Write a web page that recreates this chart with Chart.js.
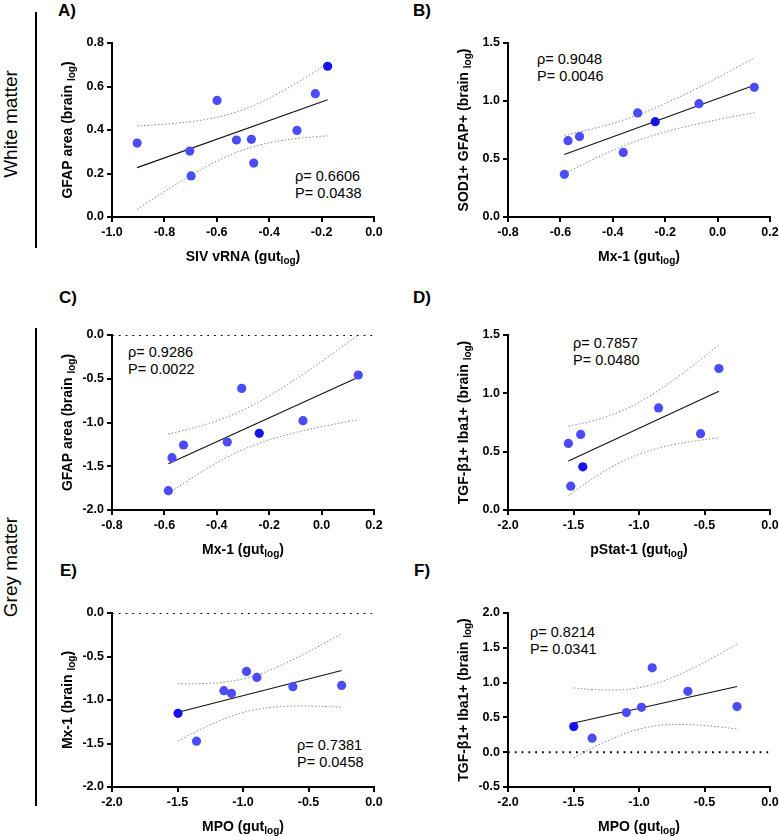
<!DOCTYPE html>
<html>
<head>
<meta charset="utf-8">
<script src="https://cdn.jsdelivr.net/npm/chart.js@4.4.1/dist/chart.umd.min.js"></script>
<style>
  body { margin: 0; width: 779px; height: 836px; overflow: hidden; background: #fff; position: relative;
         font-family: "Liberation Sans", Arial, sans-serif; color: #000; }
  canvas { position: absolute; }
  .lbl { position: absolute; font-weight: bold; font-size: 17px; line-height: 17px; }
  .stat { position: absolute; font-size: 14.5px; line-height: 17px; white-space: nowrap; }
  .side { position: absolute; font-size: 19px; white-space: nowrap; transform: translate(-50%, -50%) rotate(-90deg); }
  .vline { position: absolute; left: 35px; width: 2px; background: #000; }
</style>
</head>
<body>

<div class="vline" style="top:12px; height:236px"></div>
<div class="vline" style="top:328px; height:478px"></div>
<div class="side" style="left:11px; top:124px">White matter</div>
<div class="side" style="left:11px; top:567px">Grey matter</div>

<div class="lbl" style="left:58px; top:2px">A)</div>
<div class="lbl" style="left:413px; top:2px">B)</div>
<div class="lbl" style="left:59px; top:289px">C)</div>
<div class="lbl" style="left:413px; top:289px">D)</div>
<div class="lbl" style="left:60px; top:562px">E)</div>
<div class="lbl" style="left:414px; top:562px">F)</div>

<div class="stat" style="left:295px; top:168px">ρ= 0.6606<br>P= 0.0438</div>
<div class="stat" style="left:537px; top:51px">ρ= 0.9048<br>P= 0.0046</div>
<div class="stat" style="left:128px; top:344px">ρ= 0.9286<br>P= 0.0022</div>
<div class="stat" style="left:573px; top:335px">ρ= 0.7857<br>P= 0.0480</div>
<div class="stat" style="left:297px; top:737px">ρ= 0.7381<br>P= 0.0458</div>
<div class="stat" style="left:530px; top:624px">ρ= 0.8214<br>P= 0.0341</div>

<canvas id="cA" width="340" height="247" style="left:50px; top:25px"></canvas>
<canvas id="cB" width="342" height="247" style="left:440px; top:25px"></canvas>
<canvas id="cC" width="340" height="248" style="left:50px; top:317px"></canvas>
<canvas id="cD" width="342" height="248" style="left:440px; top:317px"></canvas>
<canvas id="cE" width="340" height="241" style="left:50px; top:595px"></canvas>
<canvas id="cF" width="342" height="241" style="left:440px; top:595px"></canvas>

<script>
// A) SIV vRNA (gut) vs GFAP area, white matter
var sivGut    = [-0.904, -0.703, -0.698, -0.599, -0.525, -0.468, -0.459, -0.294, -0.224, -0.177];
var gfapWhite = [0.340, 0.303, 0.189, 0.536, 0.354, 0.357, 0.248, 0.398, 0.567, 0.693];
// B) and C) share Mx-1 (gut)
var mx1Gut    = [-0.585, -0.571, -0.527, -0.360, -0.305, -0.238, -0.071, 0.140];
var sod1White = [0.368, 0.658, 0.693, 0.557, 0.897, 0.822, 0.977, 1.118];
var gfapGrey  = [-1.779, -1.402, -1.257, -1.223, -0.610, -1.124, -0.979, -0.457];
// D) pStat-1 (gut) vs TGF-b1+ Iba1+
var pstatGut  = [-1.539, -1.521, -1.445, -1.429, -0.851, -0.530, -0.390];
var tgfGreyD  = [0.571, 0.204, 0.648, 0.370, 0.875, 0.654, 1.213];
// E) MPO (gut) vs Mx-1 (brain)
var mpoGutE   = [-1.496, -1.355, -1.146, -1.088, -0.973, -0.894, -0.619, -0.247];
var mx1Brain  = [-1.153, -1.473, -0.893, -0.924, -0.672, -0.740, -0.847, -0.832];
// F) MPO (gut) vs TGF-b1+ Iba1+
var mpoGutF   = [-1.498, -1.358, -1.096, -0.981, -0.899, -0.627, -0.252];
var tgfGreyF  = [0.368, 0.201, 0.569, 0.645, 1.213, 0.874, 0.655];

// tick values
var xTicksA  = [-1.0, -0.8, -0.6, -0.4, -0.2, 0.0];
var xTicksBC = [-0.8, -0.6, -0.4, -0.2, 0.0, 0.2];
var xTicksDF = [-2.0, -1.5, -1.0, -0.5, 0.0];
var yTicksA  = [0.0, 0.2, 0.4, 0.6, 0.8];
var yTicksBD = [0.0, 0.5, 1.0, 1.5];
var yTicksCE = [-2.0, -1.5, -1.0, -0.5, 0.0];
var yTicksF  = [-0.5, 0.0, 0.5, 1.0, 1.5, 2.0];

var FONT = '"Liberation Sans", Arial, sans-serif';
var BLUE = '#4b4bf7';
var DARK = '#1414ea';
var tCrit = { 5: 2.571, 6: 2.447, 8: 2.306 };

function fmt(v) {
    var s = Number(v).toFixed(1);
    return s === '-0.0' ? '0.0' : s;
}

// linear fit + 95% confidence band of the mean
function fit(xs, ys) {
    var n = xs.length, mx = 0, my = 0;
    for (var i = 0; i < n; i++) { mx += xs[i]; my += ys[i]; }
    mx /= n; my /= n;
    var sxx = 0, sxy = 0;
    for (var i = 0; i < n; i++) { sxx += (xs[i] - mx) * (xs[i] - mx); sxy += (xs[i] - mx) * (ys[i] - my); }
    var b = sxy / sxx, a = my - b * mx, sse = 0;
    for (var i = 0; i < n; i++) { var r = ys[i] - (a + b * xs[i]); sse += r * r; }
    var s = Math.sqrt(sse / (n - 2)), t = tCrit[n - 2];
    var x0 = Math.min.apply(null, xs), x1 = Math.max.apply(null, xs);
    var line = [{ x: x0, y: a + b * x0 }, { x: x1, y: a + b * x1 }];
    var up = [], lo = [];
    for (var k = 0; k <= 40; k++) {
        var x = x0 + (x1 - x0) * k / 40;
        var h = t * s * Math.sqrt(1 / n + (x - mx) * (x - mx) / sxx);
        up.push({ x: x, y: a + b * x + h });
        lo.push({ x: x, y: a + b * x - h });
    }
    return { line: line, up: up, lo: lo };
}

function drawTitle(ctx, parts, cx, cy) {
    var main = 'bold 14px ' + FONT, sub = 'bold 10px ' + FONT, w = 0;
    parts.forEach(function (p) { ctx.font = p[1] ? sub : main; w += ctx.measureText(p[0]).width; });
    var x = cx - w / 2;
    ctx.textBaseline = 'middle';
    ctx.textAlign = 'left';
    ctx.fillStyle = '#000';
    parts.forEach(function (p) {
        ctx.font = p[1] ? sub : main;
        ctx.fillText(p[0], x, p[1] ? cy + 4 : cy);
        x += ctx.measureText(p[0]).width;
    });
}

function titlesPlugin(xTitle, yTitle) {
    return {
        id: 'titles',
        afterDraw: function (chart) {
            var ctx = chart.ctx, ca = chart.chartArea;
            ctx.save();
            drawTitle(ctx, xTitle, (ca.left + ca.right) / 2, ca.bottom + 40);
            ctx.translate(ca.left - 44, (ca.top + ca.bottom) / 2);
            ctx.rotate(-Math.PI / 2);
            drawTitle(ctx, yTitle, 0, 0);
            ctx.restore();
        }
    };
}

function axis(ticks, fitFn) {
    return {
        type: 'linear',
        min: ticks[0],
        max: ticks[ticks.length - 1],
        afterBuildTicks: function (s) { s.ticks = ticks.map(function (v) { return { value: v }; }); },
        afterFit: fitFn,
        border: { display: true, color: '#000', width: 2 },
        grid: { drawOnChartArea: false, drawTicks: true, color: '#000', lineWidth: 2, tickLength: 5 },
        ticks: {
            color: '#000', padding: 3, maxRotation: 0, autoSkip: false,
            font: { family: FONT, size: 12.5, weight: 'bold' },
            callback: function (v) { return fmt(v); }
        }
    };
}

function makePanel(id, xs, ys, dark, xTicks, yTicks, xTitle, yTitle, zeroLine, yw, xh, padRight) {
    var f = fit(xs, ys);
    var pts = xs.map(function (x, i) { return { x: x, y: ys[i] }; });
    var cols = xs.map(function (x, i) { return i === dark ? DARK : BLUE; });
    var datasets = [
        { data: pts, pointRadius: 4.6, pointBackgroundColor: cols, pointBorderWidth: 0, showLine: false, order: 0 },
        { data: f.line, showLine: true, borderColor: '#111', borderWidth: 1.1, pointRadius: 0, order: 1 },
        { data: f.up, showLine: true, borderColor: '#8a8a8a', borderWidth: 1, borderDash: [1.5, 2], pointRadius: 0, order: 2 },
        { data: f.lo, showLine: true, borderColor: '#8a8a8a', borderWidth: 1, borderDash: [1.5, 2], pointRadius: 0, order: 2 }
    ];
    if (zeroLine) {
        datasets.push({
            data: [{ x: xTicks[0], y: 0 }, { x: xTicks[xTicks.length - 1], y: 0 }],
            showLine: true, borderColor: '#000', borderWidth: 2, borderDash: [1.8, 5], pointRadius: 0, order: 3
        });
    }
    new Chart(document.getElementById(id), {
        type: 'scatter',
        data: { datasets: datasets },
        options: {
            responsive: false,
            animation: false,
            events: [],
            layout: { padding: { top: 18, right: padRight, left: 0, bottom: 0 } },
            plugins: { legend: { display: false }, tooltip: { enabled: false } },
            scales: {
                x: axis(xTicks, function (s) { s.height = xh; }),
                y: axis(yTicks, function (s) { s.width = yw; })
            }
        },
        plugins: [titlesPlugin(xTitle, yTitle)]
    });
}

var brainLog = function (name) { return [[name + ' (brain ', false], ['log', true], [')', false]]; };
var gutLog = function (name) { return [[name + ' (gut', false], ['log', true], [')', false]]; };

makePanel('cA', sivGut, gfapWhite, 9, xTicksA, yTicksA, gutLog('SIV vRNA'), brainLog('GFAP area'), false, 62, 55, 16);
makePanel('cB', mx1Gut, sod1White, 5, xTicksBC, yTicksBD, gutLog('Mx-1'), brainLog('SOD1+ GFAP+'), false, 68, 55, 12);
makePanel('cC', mx1Gut, gfapGrey, 5, xTicksBC, yTicksCE, gutLog('Mx-1'), brainLog('GFAP area'), true, 62, 55, 16);
makePanel('cD', pstatGut, tgfGreyD, 3, xTicksDF, yTicksBD, gutLog('pStat-1'), brainLog('TGF-β1+ Iba1+'), false, 68, 55, 12);
makePanel('cE', mpoGutE, mx1Brain, 0, xTicksDF, yTicksCE, gutLog('MPO'), brainLog('Mx-1'), true, 62, 49, 16);
makePanel('cF', mpoGutF, tgfGreyF, 0, xTicksDF, yTicksF, gutLog('MPO'), brainLog('TGF-β1+ Iba1+'), true, 68, 49, 12);
</script>
</body>
</html>
